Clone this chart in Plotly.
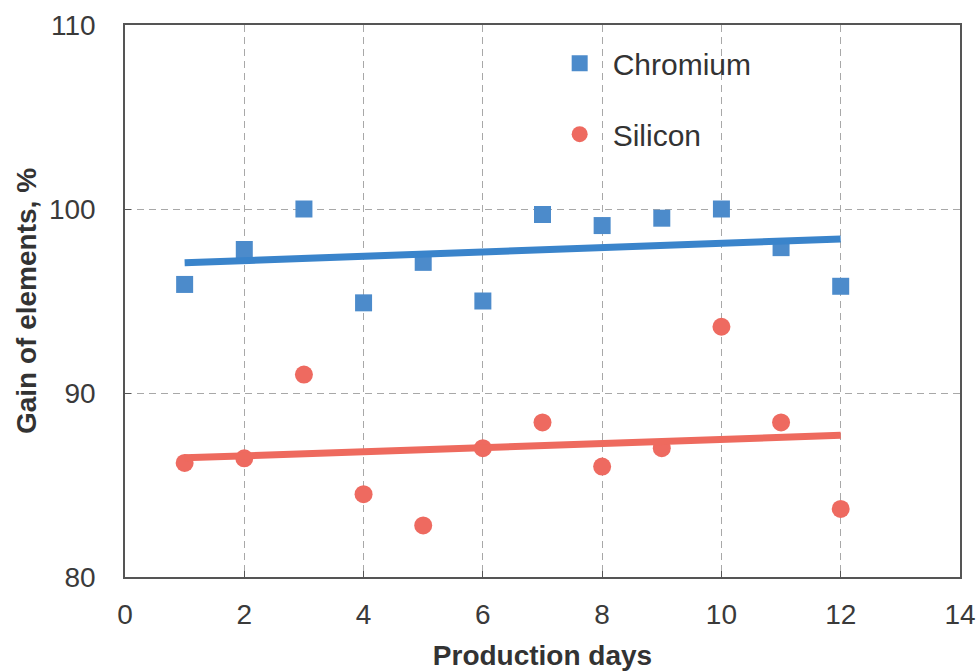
import numpy as np
import plotly.graph_objects as go

days = [1, 2, 3, 4, 5, 6, 7, 8, 9, 10, 11, 12]
chromium = [95.9, 97.8, 100.0, 94.9, 97.1, 95.0, 99.7, 99.1, 99.5, 100.0, 97.9, 95.8]
silicon = [86.2, 86.45, 91.0, 84.5, 82.8, 87.0, 88.4, 86.0, 87.0, 93.6, 88.4, 83.7]
x_ticks = [0, 2, 4, 6, 8, 10, 12, 14]
y_ticks = [80, 90, 100, 110]

blue_marker = "#4C8BCB"
blue_line = "#3A84CB"
red_marker = "#EE6A60"
red_line = "#EE6A5E"


def trend(xs, ys):
    k, b = np.polyfit(xs, ys, 1)
    xe = [min(xs), max(xs)]
    return xe, [k * v + b for v in xe]


fig = go.Figure()
fig.add_trace(go.Scatter(x=days, y=chromium, mode="markers", name="Chromium",
                         legendgroup="cr",
                         marker=dict(symbol="square", size=17, color=blue_marker)))
fig.add_trace(go.Scatter(x=days, y=silicon, mode="markers", name="Silicon",
                         legendgroup="si",
                         marker=dict(symbol="circle", size=18, color=red_marker)))
tx, ty = trend(days, chromium)
fig.add_trace(go.Scatter(x=tx, y=ty, mode="lines", showlegend=False,
                         line=dict(color=blue_line, width=7)))
tx, ty = trend(days, silicon)
fig.add_trace(go.Scatter(x=tx, y=ty, mode="lines", showlegend=False,
                         line=dict(color=red_line, width=7)))

FAM = "Liberation Sans, Arial, sans-serif"
axis_font = dict(family=FAM, size=28, color="#3A3A3A")
title_font = dict(family=FAM, size=28, color="#333333")

fig.update_layout(
    width=978, height=671,
    margin=dict(l=125, r=18, t=25, b=94),
    paper_bgcolor="white", plot_bgcolor="white",
    font=dict(family=FAM, color="#333333"),
    legend=dict(x=0.505, y=0.978, xanchor="left", yanchor="top",
                traceorder="grouped", tracegroupgap=29, itemwidth=56,
                font=dict(family=FAM, size=30, color="#333333"),
                bgcolor="rgba(0,0,0,0)"),
    xaxis=dict(range=[0, 14], tickvals=x_ticks, ticktext=[str(v) for v in x_ticks],
               showline=True, linecolor="#555555", linewidth=1.5, mirror=True,
               ticks="inside", ticklen=6, tickcolor="#555555",
               showgrid=True, gridcolor="#A8A8A8", gridwidth=1, griddash="7px,5px",
               zeroline=False, tickfont=axis_font, ticklabelstandoff=12,
               automargin=False,
               title=dict(text="<b>Production days</b>", font=title_font, standoff=22)),
    yaxis=dict(range=[80, 110], tickvals=y_ticks, ticktext=[str(v) for v in y_ticks],
               showline=True, linecolor="#555555", linewidth=1.5, mirror=True,
               ticks="inside", ticklen=6, tickcolor="#555555",
               showgrid=True, gridcolor="#A8A8A8", gridwidth=1, griddash="7px,5px",
               zeroline=False, tickfont=axis_font, ticklabelstandoff=22,
               automargin=False,
               title=dict(text="<b>Gain of elements, %</b>", font=title_font, standoff=4)),
)

fig.write_html("out.html", config={"displayModeBar": False},
               post_script="document.body.style.margin='0px';document.body.style.overflow='hidden';")
